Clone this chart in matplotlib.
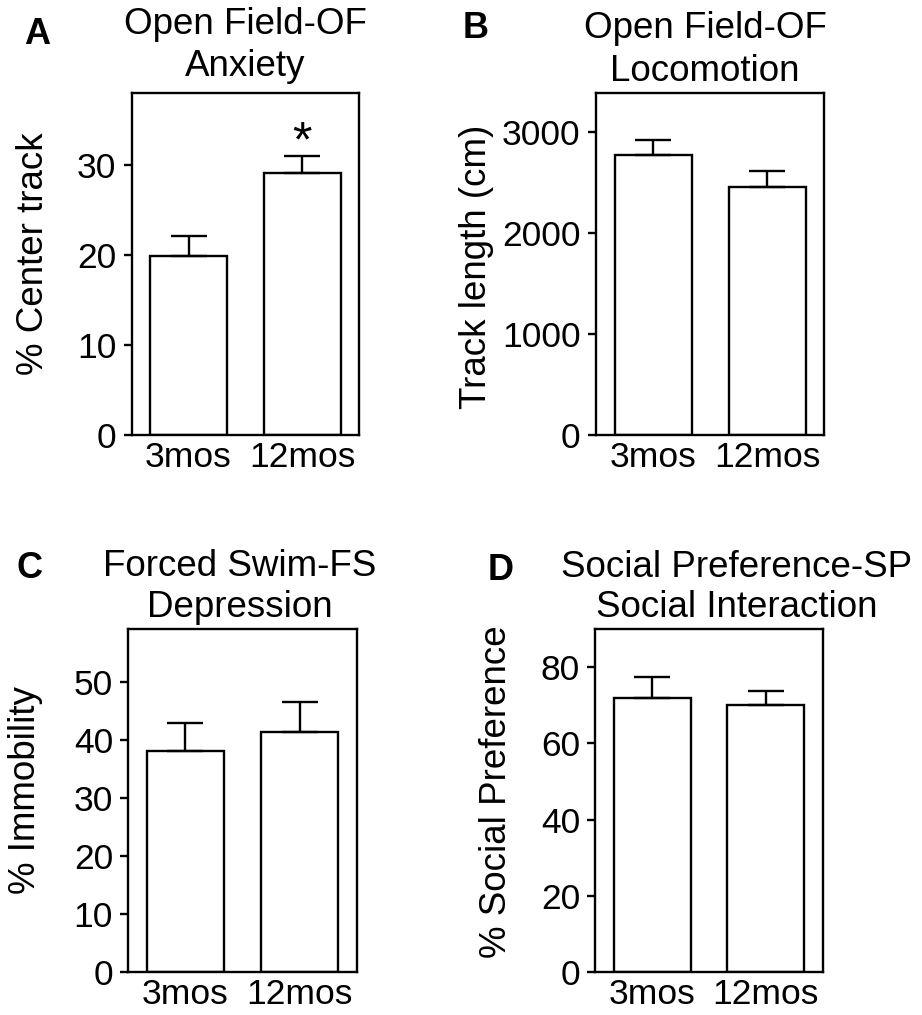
import matplotlib
matplotlib.use('Agg')
import matplotlib.pyplot as plt

# ---- data ----
groups = ['3mos', '12mos']
a_vals = [19.9, 29.1]
a_err = [2.2, 1.9]
b_vals = [2770, 2460]
b_err = [150, 150]
c_vals = [38.1, 41.4]
c_err = [4.8, 5.2]
d_vals = [71.9, 70.1]
d_err = [5.6, 3.7]

a_ticks = [0, 10, 20, 30]
b_ticks = [0, 1000, 2000, 3000]
c_ticks = [0, 10, 20, 30, 40, 50]
d_ticks = [0, 20, 40, 60, 80]

plt.rcParams['font.family'] = ['Liberation Sans', 'DejaVu Sans']

W, H = 922, 1015
fig = plt.figure(figsize=(W / 100, H / 100), dpi=100)

LW = 1.7


def px_axes(l, r, t, b):
    return fig.add_axes([l / W, 1 - b / H, (r - l) / W, (b - t) / H])


def fig_text(x, y, s, **kw):
    fig.text(x / W, 1 - y / H, s, **kw)


panels = [
    dict(box=(131.7, 359, 92.7, 435), vals=a_vals, err=a_err, ylim=38, ticks=a_ticks,
         ylabel='% Center track', lab=(-0.355, 0.530),
         title=('Open Field-OF', 'Anxiety'), tx=245, ty=(34, 76),
         letter='A', lx=24, ly=44),
    dict(box=(596, 824.3, 93.3, 435), vals=b_vals, err=b_err, ylim=3383, ticks=b_ticks,
         ylabel='Track length (cm)', lab=(-0.447, 0.492),
         title=('Open Field-OF', 'Locomotion'), tx=705, ty=(37.5, 81),
         letter='B', lx=463, ly=38),
    dict(box=(128.3, 356.7, 629, 972.3), vals=c_vals, err=c_err, ylim=59.1, ticks=c_ticks,
         ylabel='% Immobility', lab=(-0.372, 0.531),
         title=('Forced Swim-FS', 'Depression'), tx=240, ty=(576, 617),
         letter='C', lx=17, ly=578),
    dict(box=(595.3, 822.7, 629, 972.3), vals=d_vals, err=d_err, ylim=90, ticks=d_ticks,
         ylabel='% Social Preference', lab=(-0.357, 0.525),
         title=('Social Preference-SP', 'Social Interaction'), tx=737, ty=(577, 617),
         letter='D', lx=488, ly=580),
]

axes = []
for p in panels:
    ax = px_axes(*p['box'])
    x = list(range(len(groups)))
    ax.bar(x, p['vals'], width=0.675, color='white', edgecolor='black',
           linewidth=LW, zorder=2)
    ax.errorbar(x, p['vals'], yerr=[[0] * len(x), p['err']], fmt='none',
                ecolor='black', elinewidth=LW, capsize=13, capthick=LW, zorder=3)
    ax.set_xlim(-0.5, 1.5)
    ax.set_ylim(0, p['ylim'])
    ax.set_yticks(p['ticks'])
    ax.set_xticks(x)
    ax.set_xticklabels(groups, fontsize=25.5)
    ax.tick_params(axis='y', direction='out', length=6, width=LW, labelsize=25.5, pad=5)
    ax.tick_params(axis='x', length=0, pad=4)
    for s in ax.spines.values():
        s.set_linewidth(LW)
    ax.set_ylabel(p['ylabel'], fontsize=26.5)
    ax.yaxis.set_label_coords(*p['lab'])
    fig_text(p['tx'], p['ty'][0], p['title'][0], fontsize=26.5, ha='center', va='baseline')
    fig_text(p['tx'], p['ty'][1], p['title'][1], fontsize=26.5, ha='center', va='baseline')
    fig_text(p['lx'], p['ly'], p['letter'], fontsize=26, fontweight='bold',
             ha='left', va='baseline')
    axes.append(ax)

# significance star on panel A
axes[0].text(1, 32.4, '*', fontsize=36, ha='center', va='center')

fig.savefig('out.png', dpi=100)
